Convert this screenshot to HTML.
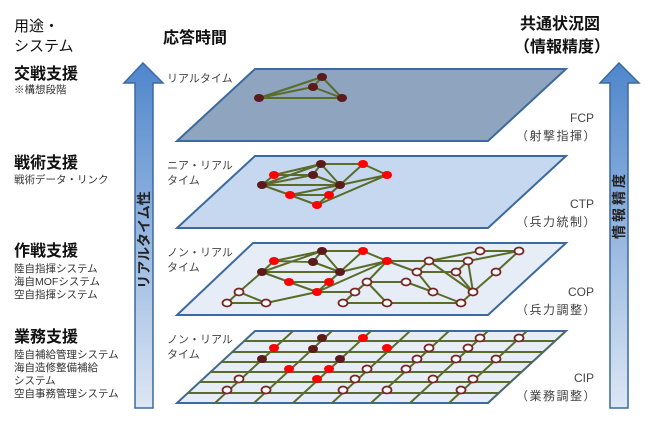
<!DOCTYPE html>
<html><head><meta charset="utf-8"><style>
body{margin:0;background:#fff;}
svg{display:block;font-family:"Liberation Sans","Noto Sans CJK JP",sans-serif;}
.e{stroke:#5a6b2a;stroke-width:2;fill:none}
.d{fill:#5c1a1a}
.r{fill:#ff0000}
.o{fill:#fff;stroke:#7a2525;stroke-width:1.8}
.t{fill:#444;font-size:11px}
.b{fill:#111;font-size:16px;font-weight:bold}
.s{fill:#333;font-size:10.5px}
</style></head><body>
<svg width="650" height="426" viewBox="0 0 650 426">
<defs>
<linearGradient id="g" x1="0" y1="0" x2="0" y2="1">
<stop offset="0" stop-color="#4f86cc"/><stop offset="1" stop-color="#dde7f4"/>
</linearGradient>
<clipPath id="c4"><polygon points="255,331 566,331 488,403 177,403"/></clipPath>
</defs>
<polygon points="143,63 163,83 153,83 153,408 135,408 135,83 124,83" fill="url(#g)" stroke="#3c6a9e" stroke-width="1.5"/>
<polygon points="619,63 639,83 628,83 628,408 610,408 610,83 600,83" fill="url(#g)" stroke="#3c6a9e" stroke-width="1.5"/>
<text transform="translate(149,240) rotate(-90)" text-anchor="middle" style="font-size:14px;font-weight:bold;fill:#222">リアルタイム性</text>
<text transform="translate(624,205) rotate(-90)" text-anchor="middle" style="font-size:14px;font-weight:bold;fill:#222;letter-spacing:3px">情報精度</text>
<polygon points="255,69 566,69 488,141 177,141" fill="#8ea4bf" stroke="#3c6a9e" stroke-width="2"/>
<polygon points="255,156 566,156 488,228 177,228" fill="#c6d8ef" stroke="#3c6a9e" stroke-width="2"/>
<polygon points="253,243 566,243 488,315 177,315" fill="#e6edf6" stroke="#3c6a9e" stroke-width="2"/>
<polygon points="255,331 566,331 488,403 177,403" fill="#e6edf6" stroke="#3c6a9e" stroke-width="2"/>
<g class="e"><path d="M259,98L322,77M259,98L313,87M259,98L342,98M313,87L322,77M313,87L342,98M322,77L342,98"/></g>
<ellipse class="d" cx="322" cy="77" rx="5" ry="4"/><ellipse class="d" cx="313" cy="87" rx="5" ry="4"/><ellipse class="d" cx="259" cy="98" rx="5" ry="4"/><ellipse class="d" cx="342" cy="98" rx="5" ry="4"/>
<g class="e"><path d="M262,185L274,175M262,185L321,164M262,185L313,175M262,185L340,185M274,175L321,164M274,175L313,175M313,175L321,164M313,175L340,185M321,164L340,185M321,164L363,164M363,164L387,175M340,185L363,164M340,185L387,175M262,185L290,195M290,195L329,195M290,195L317,205M317,205L340,185M329,195L340,185M290,195L340,185M317,205L387,175"/></g>
<g>
<ellipse class="d" cx="321" cy="164" rx="5" ry="4"/><ellipse class="d" cx="313" cy="175" rx="5" ry="4"/><ellipse class="d" cx="262" cy="185" rx="5" ry="4"/><ellipse class="d" cx="340" cy="185" rx="5" ry="4"/>
<ellipse class="r" cx="274" cy="175" rx="5" ry="4"/><ellipse class="r" cx="363" cy="164" rx="5" ry="4"/><ellipse class="r" cx="387" cy="175" rx="5" ry="4"/><ellipse class="r" cx="290" cy="195" rx="5" ry="4"/><ellipse class="r" cx="329" cy="195" rx="5" ry="4"/><ellipse class="r" cx="317" cy="205" rx="5" ry="4"/>
</g>
<g class="e"><path d="M262,272L274,261M262,272L322,251M274,261L322,251M274,261L313,262M262,272L340,272M313,262L322,251M313,262L340,272M322,251L340,272M322,251L363,251M363,251L387,261M340,272L363,251M340,272L387,261M262,272L289,282M289,282L329,282M289,282L317,292M317,292L340,272M329,282L340,272M317,292L387,261M262,272L239,292M239,292L227,303M227,303L266,303M239,292L266,303M266,303L317,292M317,292L355,292M355,292L343,303M343,303L387,303M387,303L367,282M367,282L355,292M367,282L406,282M367,282L387,261M387,261L429,261M387,261L417,272M429,261L417,272M429,261L468,261M429,261L480,251M480,251L519,251M468,261L519,251M468,261L456,272M468,261L473,292M456,272L473,292M429,261L473,292M417,272L456,272M417,272L433,292M406,282L433,292M433,292L461,303M473,292L461,303M473,292L496,272M496,272L519,251M387,303L461,303M367,282L343,303"/></g>
<g>
<ellipse class="d" cx="322" cy="251" rx="5" ry="4"/><ellipse class="d" cx="313" cy="262" rx="5" ry="4"/><ellipse class="d" cx="262" cy="272" rx="5" ry="4"/><ellipse class="d" cx="340" cy="272" rx="5" ry="4"/>
<ellipse class="r" cx="274" cy="261" rx="5" ry="4"/><ellipse class="r" cx="363" cy="251" rx="5" ry="4"/><ellipse class="r" cx="387" cy="261" rx="5" ry="4"/><ellipse class="r" cx="289" cy="282" rx="5" ry="4"/><ellipse class="r" cx="329" cy="282" rx="5" ry="4"/><ellipse class="r" cx="317" cy="292" rx="5" ry="4"/>
<g class="o"><ellipse cx="480" cy="251" rx="4.5" ry="3.5"/><ellipse cx="519" cy="251" rx="4.5" ry="3.5"/><ellipse cx="429" cy="261" rx="4.5" ry="3.5"/><ellipse cx="468" cy="261" rx="4.5" ry="3.5"/><ellipse cx="417" cy="272" rx="4.5" ry="3.5"/><ellipse cx="456" cy="272" rx="4.5" ry="3.5"/><ellipse cx="496" cy="272" rx="4.5" ry="3.5"/><ellipse cx="367" cy="282" rx="4.5" ry="3.5"/><ellipse cx="406" cy="282" rx="4.5" ry="3.5"/><ellipse cx="239" cy="292" rx="4.5" ry="3.5"/><ellipse cx="355" cy="292" rx="4.5" ry="3.5"/><ellipse cx="433" cy="292" rx="4.5" ry="3.5"/><ellipse cx="473" cy="292" rx="4.5" ry="3.5"/><ellipse cx="227" cy="303" rx="4.5" ry="3.5"/><ellipse cx="266" cy="303" rx="4.5" ry="3.5"/><ellipse cx="343" cy="303" rx="4.5" ry="3.5"/><ellipse cx="387" cy="303" rx="4.5" ry="3.5"/><ellipse cx="461" cy="303" rx="4.5" ry="3.5"/></g>
</g>
<g class="e" clip-path="url(#c4)">
<path d="M150,341H600M150,352H600M150,362H600M150,372H600M150,382H600M150,393H600"/>
<path d="M254,331l-78,72M293,331l-78,72M332,331l-78,72M371,331l-78,72M410,331l-78,72M449,331l-78,72M488,331l-78,72M527,331l-78,72M566,331l-78,72"/>
</g>
<g transform="translate(0,87)">
<ellipse class="d" cx="322" cy="251" rx="5" ry="4"/><ellipse class="d" cx="313" cy="262" rx="5" ry="4"/><ellipse class="d" cx="262" cy="272" rx="5" ry="4"/><ellipse class="d" cx="340" cy="272" rx="5" ry="4"/>
<ellipse class="r" cx="274" cy="261" rx="5" ry="4"/><ellipse class="r" cx="363" cy="251" rx="5" ry="4"/><ellipse class="r" cx="387" cy="261" rx="5" ry="4"/><ellipse class="r" cx="289" cy="282" rx="5" ry="4"/><ellipse class="r" cx="329" cy="282" rx="5" ry="4"/><ellipse class="r" cx="317" cy="292" rx="5" ry="4"/>
<g class="o"><ellipse cx="480" cy="251" rx="4.5" ry="3.5"/><ellipse cx="519" cy="251" rx="4.5" ry="3.5"/><ellipse cx="429" cy="261" rx="4.5" ry="3.5"/><ellipse cx="468" cy="261" rx="4.5" ry="3.5"/><ellipse cx="417" cy="272" rx="4.5" ry="3.5"/><ellipse cx="456" cy="272" rx="4.5" ry="3.5"/><ellipse cx="496" cy="272" rx="4.5" ry="3.5"/><ellipse cx="367" cy="282" rx="4.5" ry="3.5"/><ellipse cx="406" cy="282" rx="4.5" ry="3.5"/><ellipse cx="239" cy="292" rx="4.5" ry="3.5"/><ellipse cx="355" cy="292" rx="4.5" ry="3.5"/><ellipse cx="433" cy="292" rx="4.5" ry="3.5"/><ellipse cx="473" cy="292" rx="4.5" ry="3.5"/><ellipse cx="227" cy="303" rx="4.5" ry="3.5"/><ellipse cx="266" cy="303" rx="4.5" ry="3.5"/><ellipse cx="343" cy="303" rx="4.5" ry="3.5"/><ellipse cx="387" cy="303" rx="4.5" ry="3.5"/><ellipse cx="461" cy="303" rx="4.5" ry="3.5"/></g>
</g>
<text class="t" x="167" y="82">リアルタイム</text>
<text class="t" x="167" y="169">ニア・リアル</text><text class="t" x="167" y="184">タイム</text>
<text class="t" x="167" y="256">ノン・リアル</text><text class="t" x="167" y="271">タイム</text>
<text class="t" x="167" y="343">ノン・リアル</text><text class="t" x="167" y="358">タイム</text>
<g class="t" text-anchor="end" style="font-size:12px">
<text x="594" y="122">FCP</text><text x="597" y="140" style="letter-spacing:1.5px">（射撃指揮）</text>
<text x="594" y="208">CTP</text><text x="597" y="226" style="letter-spacing:1.5px">（兵力統制）</text>
<text x="594" y="296">COP</text><text x="597" y="314" style="letter-spacing:1.5px">（兵力調整）</text>
<text x="594" y="382">CIP</text><text x="597" y="400" style="letter-spacing:1.5px">（業務調整）</text>
</g>
<text x="14" y="31" style="font-size:15px;fill:#111">用途・</text>
<text x="14" y="51" style="font-size:15px;fill:#111">システム</text>
<text class="b" x="163" y="43">応答時間</text>
<text class="b" x="520" y="29">共通状況図</text>
<text class="b" x="514" y="52">（情報精度）</text>
<text class="b" x="14" y="79">交戦支援</text>
<text class="s" x="14" y="93">※構想段階</text>
<text class="b" x="14" y="168">戦術支援</text>
<text class="s" x="14" y="183">戦術データ・リンク</text>
<text class="b" x="14" y="256">作戦支援</text>
<text class="s" x="14" y="272">陸自指揮システム</text>
<text class="s" x="14" y="285">海自MOFシステム</text>
<text class="s" x="14" y="298">空自指揮システム</text>
<text class="b" x="14" y="342">業務支援</text>
<text class="s" x="14" y="358">陸自補給管理システム</text>
<text class="s" x="14" y="371">海自造修整備補給</text>
<text class="s" x="14" y="384">システム</text>
<text class="s" x="14" y="397">空自事務管理システム</text>
</svg>
</body></html>
